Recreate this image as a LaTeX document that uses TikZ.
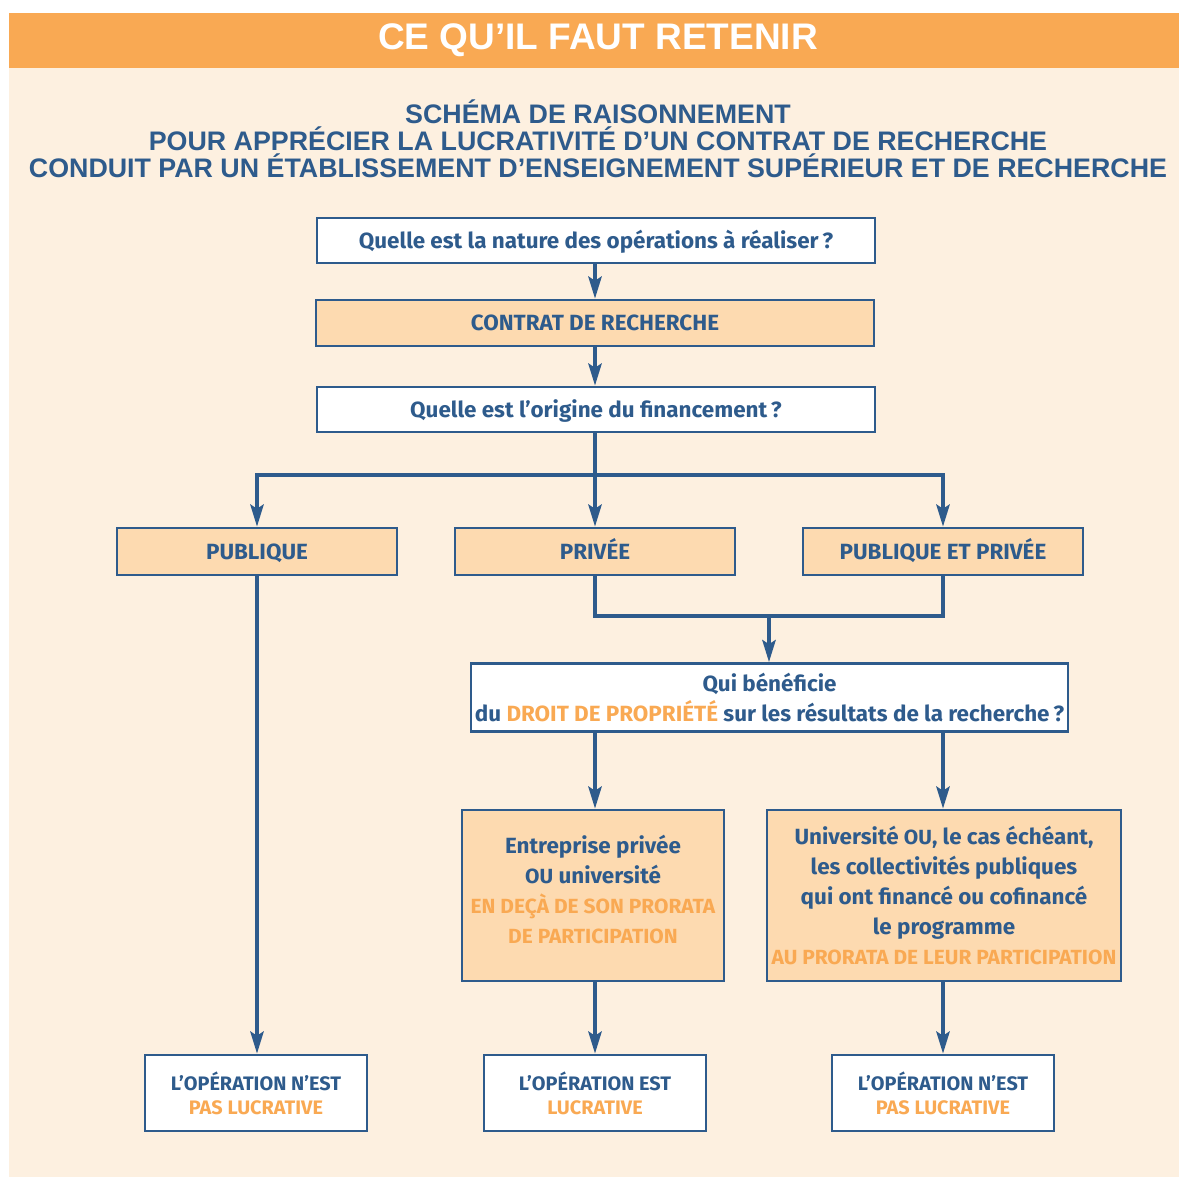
\documentclass[tikz,border=0pt]{standalone}
\usepackage{fontspec}
\setmainfont{Liberation Sans}
\newfontfamily\cond[FakeStretch=1.02]{Fira Sans}
\usetikzlibrary{arrows.meta}
\definecolor{navy}{HTML}{2E5B8C}
\definecolor{orng}{HTML}{F9A953}
\definecolor{beige}{HTML}{FDF0E0}
\definecolor{peach}{HTML}{FDDAB0}
\begin{document}
\begin{tikzpicture}[x=1pt,y=-1pt,
  box/.style={draw=navy, line width=2.4pt, fill=white, inner sep=0pt, align=center,
    font=\cond\bfseries\fontsize{22}{30}\selectfont, text=navy},
  pbox/.style={box, fill=peach},
  oneline/.style={text height=18pt, text depth=2.4pt},
  fbox/.style={box, minimum width=222pt, minimum height=76pt,
    font=\cond\bfseries\fontsize{19.5}{24}\selectfont},
  conn/.style={draw=navy, line width=4.5pt},
  arr/.style={conn, -{Stealth[length=22pt,width=13pt,inset=4pt]}}
]
\useasboundingbox (0,0) rectangle (1179,1177);
\fill[white] (0,0) rectangle (1179,1177);
\fill[beige] (9,13) rectangle (1179,1177);
\fill[orng] (9,13) rectangle (1179,68);
\node[text=white, font=\bfseries\fontsize{37}{40}\selectfont] (title) at (598,40) {CE QU’IL FAUT RETENIR};
\node[text=navy, align=center, font=\bfseries\fontsize{26.8}{27}\selectfont] (sub) at (598,139)
  {SCHÉMA DE RAISONNEMENT\\POUR APPRÉCIER LA LUCRATIVITÉ D’UN CONTRAT DE RECHERCHE\\CONDUIT PAR UN ÉTABLISSEMENT D’ENSEIGNEMENT SUPÉRIEUR ET DE RECHERCHE};

\node[box, oneline, minimum width=558pt, minimum height=45pt] (b1) at (596,240.5) {Quelle est la nature des opérations à réaliser\,?};
\node[pbox, oneline, minimum width=558pt, minimum height=46pt] (b2) at (595,323) {CONTRAT DE RECHERCHE};
\node[box, oneline, minimum width=558pt, minimum height=45pt] (b3) at (596,409.5) {Quelle est l’origine du financement\,?};

\node[pbox, oneline, minimum width=280pt, minimum height=47pt] (pub) at (257,551.5) {PUBLIQUE};
\node[pbox, oneline, minimum width=280pt, minimum height=47pt] (priv) at (595,551.5) {PRIVÉE};
\node[pbox, oneline, minimum width=280pt, minimum height=47pt] (pep) at (943,551.5) {PUBLIQUE ET PRIVÉE};

\node[box, minimum width=597pt, minimum height=68pt] (qui) at (769.5,697.5)
  {Qui bénéficie\\du {\color{orng}DROIT DE PROPRIÉTÉ} sur les résultats de la recherche\,?};

\node[pbox, text depth=12pt, minimum width=262pt, minimum height=171pt] (ent) at (593,895.5)
  {Entreprise privée\\{\fontsize{20.5}{30}\selectfont OU} université\\
   {\color{orng}\fontsize{20.5}{30}\selectfont EN DEÇÀ DE SON PRORATA}\\
   {\color{orng}\fontsize{20.5}{30}\selectfont DE PARTICIPATION}};
\node[pbox, minimum width=354pt, minimum height=171pt] (univ) at (944,895.5)
  {Université {\fontsize{20.5}{30}\selectfont OU}, le cas échéant,\\les collectivités publiques\\qui ont financé ou cofinancé\\le programme\\
   {\color{orng}\fontsize{20.5}{30}\selectfont AU PRORATA DE LEUR PARTICIPATION}};

\node[fbox] (f1) at (256,1093) {L’OPÉRATION N’EST\\{\color{orng}PAS LUCRATIVE}};
\node[fbox] (f2) at (595,1093) {L’OPÉRATION EST\\{\color{orng}LUCRATIVE}};
\node[fbox] (f3) at (943,1093) {L’OPÉRATION N’EST\\{\color{orng}PAS LUCRATIVE}};

\coordinate (split) at (595,475);
\coordinate (merge) at (769,616);

\draw[arr] (b1.south -| b2.north) -- (b2.north);
\draw[arr] (b2.south) -- (b2.south |- b3.north);
\draw[arr] (b3.south -| priv.north) -- (priv.north);
\draw[arr] (split) -| (pub.north);
\draw[arr] (split) -| (pep.north);
\draw[conn] (priv.south) |- (merge) -| (pep.south);
\draw[arr] (merge) -- (merge |- qui.north);
\draw[arr] (qui.south -| priv.south) -- (priv.south |- ent.north);
\draw[arr] (qui.south -| pep.south) -- (pep.south |- univ.north);
\draw[arr] (pub.south) -- (pub.south |- f1.north);
\draw[arr] (priv.south |- ent.south) -- (f2.north);
\draw[arr] (pep.south |- univ.south) -- (f3.north);
\end{tikzpicture}
\end{document}
